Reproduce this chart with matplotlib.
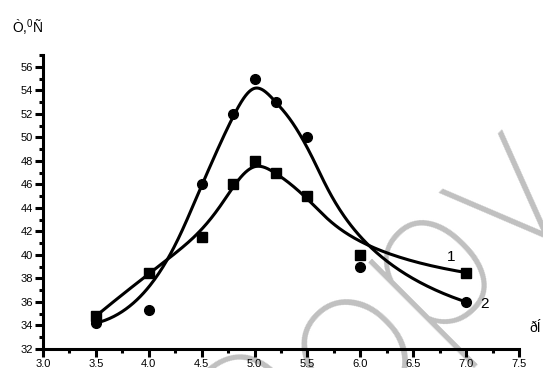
import numpy as np
import matplotlib.pyplot as plt
from matplotlib.ticker import MultipleLocator

plt.rcParams['font.family'] = ['Liberation Sans', 'DejaVu Sans']
plt.rcParams['mathtext.fontset'] = 'custom'
plt.rcParams['mathtext.rm'] = 'Liberation Sans'

# measured points
x = np.array([3.5, 4.0, 4.5, 4.8, 5.0, 5.2, 5.5, 6.0, 7.0])
t1 = np.array([34.8, 38.5, 41.5, 46.0, 48.0, 47.0, 45.0, 40.0, 38.5])
t2 = np.array([34.2, 35.3, 46.0, 52.0, 55.0, 53.0, 50.0, 39.0, 36.0])


def bspline(px, py, k=3, n=400):
    """clamped uniform B-spline using the points as control points"""
    m = len(px)
    t = np.concatenate([np.zeros(k), np.linspace(0, 1, m - k + 1), np.ones(k)])
    u = np.linspace(0, 1, n)
    N = np.zeros((n, len(t) - 1))
    for i in range(len(t) - 1):
        N[:, i] = (t[i] <= u) & (u < t[i + 1])
    N[-1, m - 1] = 1.0
    for d in range(1, k + 1):
        Nn = np.zeros((n, len(t) - 1 - d))
        for i in range(len(t) - 1 - d):
            a = t[i + d] - t[i]
            b = t[i + d + 1] - t[i + 1]
            if a > 0:
                Nn[:, i] += (u - t[i]) / a * N[:, i]
            if b > 0:
                Nn[:, i] += (t[i + d + 1] - u) / b * N[:, i + 1]
        N = Nn
    return N @ px, N @ py


fig = plt.figure(figsize=(5.43, 3.68), dpi=100)
ax = fig.add_axes([43 / 543, 19 / 368, (519 - 43) / 543, (349 - 55) / 368])

# watermark behind everything
fig.text(0.473, -0.394, 'Copy', fontsize=147, color='#c0c0c0', rotation=45,
         rotation_mode='anchor', ha='left', va='baseline', zorder=-5,
         family='Roboto', fontweight='light')
ax.patch.set_alpha(0)

lw = 2.2
for ys, mk in ((t1, 's'), (t2, 'o')):
    bx, by = bspline(x, ys)
    ax.plot(bx, by, color='black', lw=lw, zorder=3)
    ax.plot(x, ys, mk, color='black', ms=7, zorder=4)

ax.set_xlim(3.0, 7.5)
ax.set_ylim(32, 57)
ax.xaxis.set_major_locator(MultipleLocator(0.5))
ax.xaxis.set_minor_locator(MultipleLocator(0.25))
ax.yaxis.set_major_locator(MultipleLocator(2))
ax.yaxis.set_minor_locator(MultipleLocator(1))
ax.xaxis.set_major_formatter(lambda v, p: f'{v:.1f}')

for s in ('top', 'right'):
    ax.spines[s].set_visible(False)
for s in ('left', 'bottom'):
    ax.spines[s].set_linewidth(2.2)
ax.tick_params(which='major', direction='out', length=6, width=2.2,
               labelsize=8, pad=1)
ax.tick_params(which='minor', direction='out', length=3, width=2.2)

ax.text(6.86, 39.8, '1', fontsize=11, ha='center', va='center', zorder=5)
ax.text(7.17, 35.8, '2', fontsize=11, ha='center', va='center', zorder=5)

fig.text(12 / 543, 1 - 28 / 368, r'Ò,$^{0}$Ñ', fontsize=10, ha='left', va='center')
fig.text(529 / 543, 1 - 328 / 368, 'ðÍ', fontsize=10, ha='left', va='center')

fig.savefig('out.png', dpi=100)
